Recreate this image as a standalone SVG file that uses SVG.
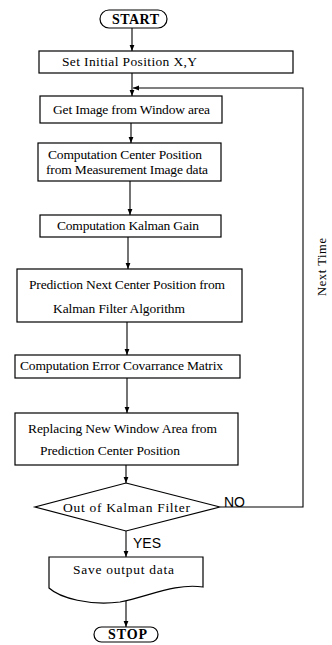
<svg xmlns="http://www.w3.org/2000/svg" width="332" height="645" viewBox="0 0 332 645">
<defs>
<marker id="ah" viewBox="0 0 10 10" refX="10" refY="5" markerWidth="6" markerHeight="6" orient="auto" markerUnits="userSpaceOnUse">
<path d="M0,1 L10,5 L0,9 Z" fill="#000"/>
</marker>
<style>
.s{fill:#fff;stroke:#000;stroke-width:1.2}
.t{font-family:"Liberation Serif","Times New Roman",serif;font-size:13.5px;fill:#000;text-anchor:middle}
.b{font-family:"Liberation Serif","Times New Roman",serif;font-size:14px;font-weight:bold;fill:#000;text-anchor:middle}
.a{font-family:"Liberation Sans",Arial,sans-serif;font-size:14px;fill:#000}
.c{fill:none;stroke:#000;stroke-width:1.1}
</style>
</defs>
<rect width="332" height="645" fill="#fff"/>
<g id="connectors">
<line class="c" x1="132" y1="28" x2="132" y2="51" marker-end="url(#ah)"/>
<line class="c" x1="132" y1="73" x2="132" y2="96" marker-end="url(#ah)"/>
<polyline class="c" points="220,507 303,507 303,88 133,88" marker-end="url(#ah)"/>
<line class="c" x1="131" y1="123" x2="131" y2="143" marker-end="url(#ah)"/>
<line class="c" x1="130" y1="181" x2="130" y2="215" marker-end="url(#ah)"/>
<line class="c" x1="128" y1="237" x2="128" y2="269" marker-end="url(#ah)"/>
<line class="c" x1="127" y1="322" x2="127" y2="355" marker-end="url(#ah)"/>
<line class="c" x1="127" y1="378" x2="127" y2="413" marker-end="url(#ah)"/>
<line class="c" x1="126" y1="465" x2="126" y2="483" marker-end="url(#ah)"/>
<line class="c" x1="126" y1="531" x2="126" y2="557" marker-end="url(#ah)"/>
<line class="c" x1="126" y1="601" x2="126" y2="627" marker-end="url(#ah)"/>
<text class="a" x="224" y="507">NO</text>
<text class="a" x="133" y="548">YES</text>
<text class="t" transform="translate(326,267) rotate(-90)" style="font-size:12.5px" textLength="58">Next Time</text>
</g>
<g id="start">
<rect class="s" x="100" y="10" width="67" height="18" rx="9"/>
<text class="b" x="135.5" y="24" textLength="47">START</text>
</g>
<g id="setInit">
<rect class="s" x="39" y="51" width="254" height="22"/>
<text class="t" x="129.5" y="66" textLength="135">Set Initial Position  X,Y</text>
</g>
<g id="getImage">
<rect class="s" x="40" y="96" width="182" height="27"/>
<text class="t" x="131.5" y="114" textLength="157">Get Image from Window area</text>
</g>
<g id="centerPos">
<rect class="s" x="38" y="143" width="183" height="38"/>
<text class="t" x="125" y="159" textLength="154">Computation Center Position</text>
<text class="t" x="127" y="174" textLength="162">from Measurement Image data</text>
</g>
<g id="kalmanGain">
<rect class="s" x="40" y="215" width="181" height="22"/>
<text class="t" x="128" y="230" textLength="142">Computation Kalman Gain</text>
</g>
<g id="prediction">
<rect class="s" x="17" y="269" width="225" height="53"/>
<text class="t" x="127" y="289" textLength="196">Prediction Next Center Position from</text>
<text class="t" x="119" y="313" textLength="132">Kalman Filter Algorithm</text>
</g>
<g id="errorCov">
<rect class="s" x="15" y="355" width="225" height="23"/>
<text class="t" x="121.5" y="370" textLength="203">Computation Error Covarrance Matrix</text>
</g>
<g id="replacing">
<rect class="s" x="15" y="413" width="223" height="52"/>
<text class="t" x="122.5" y="433" textLength="189">Replacing New Window Area from</text>
<text class="t" x="110" y="455" textLength="140">Prediction Center Position</text>
</g>
<g id="decision">
<polygon class="s" points="126,483 220,507 126,531 35,507"/>
<text class="t" x="126.5" y="512" textLength="127">Out of Kalman Filter</text>
</g>
<g id="save">
<path class="s" d="M49,557 L203,557 L203,587 C175,583 150,596 120,602 C90,606 60,598 49,588 Z"/>
<text class="t" x="123.5" y="574" textLength="101">Save output data</text>
</g>
<g id="stop">
<rect class="s" x="94" y="627" width="64" height="15" rx="7.5"/>
<text class="b" x="127.5" y="639" textLength="39">STOP</text>
</g>
</svg>
